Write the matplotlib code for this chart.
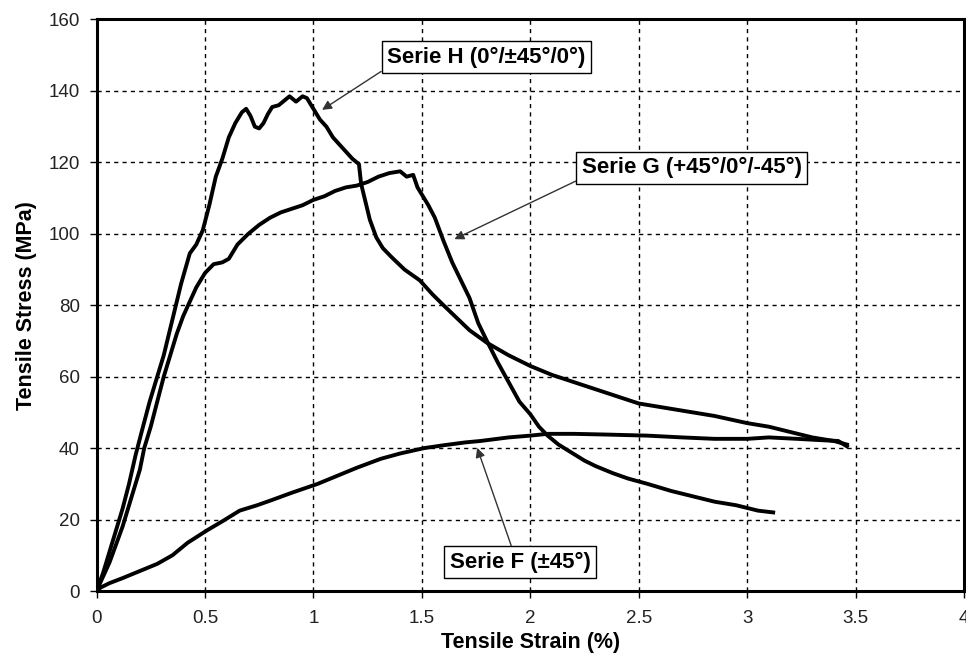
import numpy as np
import matplotlib
matplotlib.use("Agg")
import matplotlib.pyplot as plt

# Serie H (0/±45/0)
strain_h = [0, 0.03, 0.06, 0.09, 0.12, 0.15, 0.18, 0.21, 0.245, 0.28, 0.31, 0.35, 0.39, 0.43,
            0.46, 0.49, 0.52, 0.55, 0.58, 0.61, 0.64, 0.67, 0.69, 0.71, 0.73, 0.75, 0.77, 0.79,
            0.81, 0.84, 0.87, 0.89, 0.92, 0.95, 0.97, 1.0, 1.03, 1.06, 1.09, 1.12, 1.15, 1.18,
            1.21, 1.22, 1.24, 1.26, 1.29, 1.32, 1.36, 1.42, 1.49, 1.55, 1.6, 1.66, 1.72, 1.8,
            1.9, 2.0, 2.1, 2.2, 2.3, 2.4, 2.5, 2.6, 2.7, 2.85, 3.0, 3.1, 3.2, 3.3, 3.4, 3.46]
stress_h = [0, 5, 11, 17, 23, 30, 38, 45, 53, 60, 66, 76, 86, 94.5,
            97, 101, 108, 116, 121, 127, 131, 134, 135, 133, 130, 129.5, 131, 133.5,
            135.5, 136, 137.5, 138.5, 137, 138.5, 138, 135, 132, 130, 127, 125, 123, 121,
            119.5, 114, 109, 104, 99, 96, 93.5, 90, 87, 83, 80, 76.5, 73, 69.5,
            66, 63, 60.5, 58.5, 56.5, 54.5, 52.5, 51.5, 50.5, 49, 47, 46, 44.5, 43, 42, 41]

# Serie G (+45/0/-45)
strain_g = [0, 0.03, 0.06, 0.09, 0.12, 0.14, 0.17, 0.2, 0.22, 0.25, 0.28, 0.31, 0.34, 0.37,
            0.4, 0.43, 0.46, 0.5, 0.54, 0.58, 0.61, 0.65, 0.7, 0.75, 0.8, 0.85, 0.9, 0.95,
            1.0, 1.05, 1.1, 1.15, 1.2, 1.25, 1.3, 1.35, 1.4, 1.43, 1.46, 1.48, 1.5, 1.53,
            1.56, 1.6, 1.64, 1.68, 1.72, 1.76, 1.8, 1.85, 1.9, 1.95, 2.0, 2.04, 2.08, 2.13,
            2.17, 2.25, 2.3, 2.38, 2.45, 2.54, 2.65, 2.75, 2.85, 2.95, 3.05, 3.12]
stress_g = [0, 4, 8, 13, 18, 22, 28, 34, 40, 46, 53, 60, 66, 72,
            77, 81, 85, 89, 91.5, 92, 93, 97, 100, 102.5, 104.5, 106, 107, 108,
            109.5, 110.5, 112, 113, 113.5, 114.5, 116, 117, 117.5, 116, 116.5, 113, 111, 108,
            104.5, 98, 92, 87, 82, 75, 70, 64, 58.5, 53, 49.5, 46, 43.5, 41,
            39.5, 36.5, 35, 33, 31.5, 30, 28, 26.5, 25, 24, 22.5, 22]

# Serie F (±45)
strain_f = [0, 0.02, 0.06, 0.12, 0.2, 0.28, 0.35, 0.42, 0.51, 0.58, 0.66, 0.74, 0.81, 0.9,
            1.02, 1.12, 1.2, 1.31, 1.4, 1.51, 1.6, 1.7, 1.77, 1.9, 2.0, 2.08, 2.2, 2.35,
            2.54, 2.7, 2.85, 3.0, 3.1, 3.23, 3.35, 3.42, 3.46]
stress_f = [0, 1, 2.2, 3.6, 5.6, 7.6, 10, 13.5, 17, 19.5, 22.5, 24, 25.5, 27.5,
            30, 32.5, 34.5, 37, 38.5, 40, 40.8, 41.6, 42, 43, 43.5, 44, 44, 43.8,
            43.5, 43, 42.6, 42.6, 43, 42.6, 42.2, 42, 40.5]

fig = plt.figure(figsize=(9.66, 6.70), dpi=100)
ax = fig.add_axes([0.0999, 0.1179, 0.8981, 0.853])

for sx, sy in [(strain_f, stress_f), (strain_g, stress_g), (strain_h, stress_h)]:
    ax.plot(sx, sy, color="black", lw=2.8, solid_joinstyle="round")

ax.set_xlim(0, 4)
ax.set_ylim(0, 160)
ax.set_xticks(np.arange(0, 4.01, 0.5))
ax.set_xticklabels(["0", "0.5", "1", "1.5", "2", "2.5", "3", "3.5", "4"])
ax.set_yticks(range(0, 161, 20))
ax.grid(True, color="black", linestyle=(0, (3, 3)), lw=1.0)
ax.set_axisbelow(True)

for s in ax.spines.values():
    s.set_linewidth(2.2)
ax.tick_params(direction="out", length=5, width=1, labelsize=13.5,
               labelcolor="#222222", pad=7)
ax.tick_params(axis="x", pad=9)
for lab in ax.get_xticklabels() + ax.get_yticklabels():
    lab.set_family("Liberation Sans")

ax.set_xlabel("Tensile Strain (%)", family="Liberation Sans", fontweight="bold",
              fontsize=15.5, labelpad=3)
ax.set_ylabel("Tensile Stress (MPa)", family="Liberation Sans", fontweight="bold",
              fontsize=15.5, labelpad=8)

box = dict(boxstyle="square,pad=0.25", facecolor="white", edgecolor="black", lw=1)
arr = dict(arrowstyle="-|>", color="#333333", lw=1, mutation_scale=14,
           shrinkA=0, shrinkB=0)

ax.annotate("Serie H (0°/±45°/0°)", xy=(1.04, 134.7), xytext=(1.797, 149.5),
            ha="center", va="center", fontsize=16, fontweight="bold",
            family="Liberation Sans", bbox=box,
            arrowprops=dict(arr, relpos=(0, 0)))
ax.annotate("Serie G (+45°/0°/-45°)", xy=(1.65, 98.5), xytext=(2.744, 118.5),
            ha="center", va="center", fontsize=16, fontweight="bold",
            family="Liberation Sans", bbox=box,
            arrowprops=dict(arr, relpos=(0, 0)))
ax.annotate("Serie F (±45°)", xy=(1.755, 40.1), xytext=(1.954, 8.1),
            ha="center", va="center", fontsize=16, fontweight="bold",
            family="Liberation Sans", bbox=box,
            arrowprops=dict(arr, relpos=(0.45, 1)))

fig.savefig("out.png", dpi=100)
